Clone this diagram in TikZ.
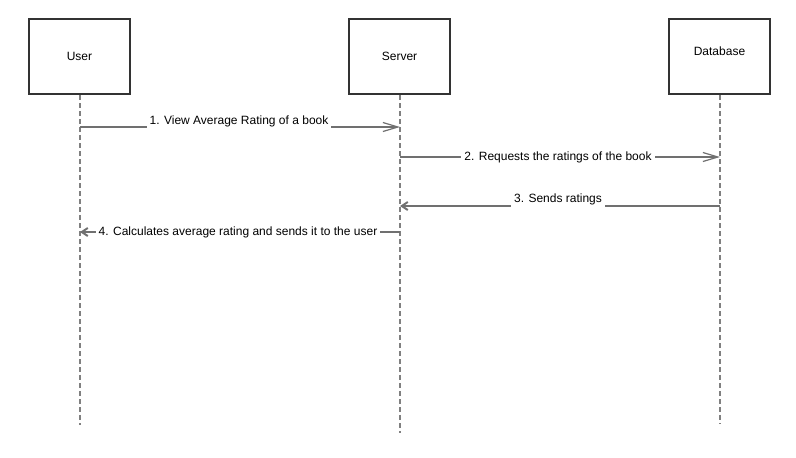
\documentclass[tikz,border=0pt]{standalone}
\usepackage{fontspec}
\setmainfont{Liberation Sans}
\usetikzlibrary{arrows.meta}
\definecolor{boxline}{HTML}{333333}
\definecolor{msgline}{HTML}{707070}
\definecolor{lifecol}{HTML}{808080}
\begin{document}
\begin{tikzpicture}[x=1pt,y=-1pt,
  actorbox/.style={draw=boxline,line width=2pt,fill=white,minimum width=101pt,minimum height=75pt,inner sep=0pt,font=\fontsize{12}{14}\selectfont},
  lifeline/.style={draw=lifecol,line width=1.5pt,dash pattern=on 4.5pt off 3.5pt},
  callmsg/.style={draw=msgline,line width=1.3pt,-{Straight Barb[length=15pt,width=9pt,line width=1.2pt]}},
  retmsg/.style={draw=msgline,line width=1.3pt,-{Straight Barb[length=6pt,width=8pt,line width=2pt]}},
  msglabel/.style={fill=white,inner sep=3pt,font=\fontsize{12}{14}\selectfont,text=black}]
\useasboundingbox (0,0) rectangle (796,458);
\fill[white] (0,0) rectangle (796,458);
% actors
\node[actorbox] (user) at (79.5,56.5) {User};
\node[actorbox] (server) at (399.5,56.5) {Server};
\node[actorbox] (db) at (719.5,56.5) {};
\node[font=\fontsize{12}{14}\selectfont,inner sep=0pt] (dbtext) at (719.5,51) {Database};
% lifeline ends
\coordinate (uend) at (80,425);
\coordinate (send) at (400,433);
\coordinate (dend) at (720,424);
\draw[lifeline] (user.south -| uend) -- (uend);
\draw[lifeline] (server.south -| send) -- (send);
\draw[lifeline] (db.south -| dend) -- (dend);
% message points
\coordinate (u1) at (80,127);
\coordinate (s1) at (400,127);
\coordinate (s2) at (400,157);
\coordinate (d2) at (720,157);
\coordinate (d3) at (720,206);
\coordinate (s3) at (400,206);
\coordinate (s4) at (400,232);
\coordinate (u4) at (80,232);
% messages
\draw[callmsg] (u1) -- (s1);
\node[msglabel] (l1) at (239,121) {1. View Average Rating of a book};
\draw[callmsg] (s2) -- (d2);
\node[msglabel] (l2) at (558,157) {2. Requests the ratings of the book};
\draw[retmsg] (d3) -- (s3);
\node[msglabel] (l3) at (558,199) {3. Sends ratings};
\draw[retmsg] (s4) -- (u4);
\node[msglabel] (l4) at (238,232) {4. Calculates average rating and sends it to the user};
\end{tikzpicture}
\end{document}
